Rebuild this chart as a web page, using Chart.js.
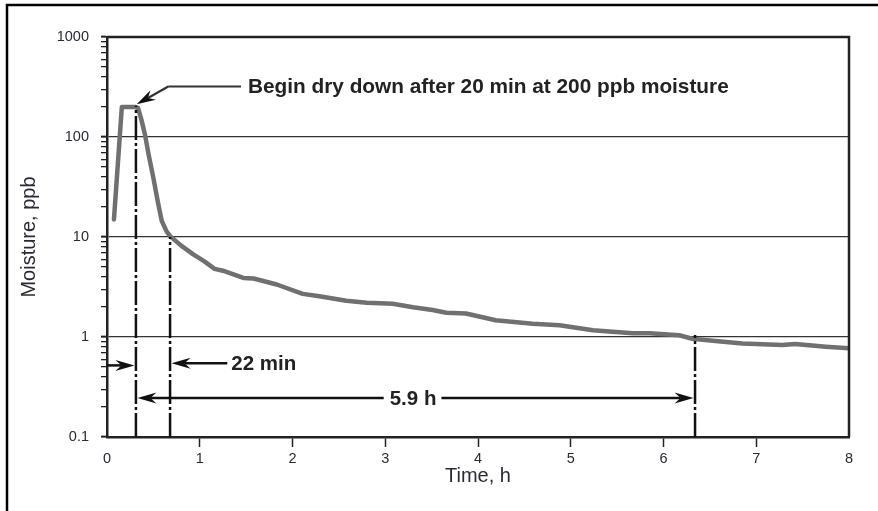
<!DOCTYPE html>
<html><head><meta charset="utf-8">
<script src="https://cdn.jsdelivr.net/npm/chart.js@4"></script>
<style>html,body{margin:0;padding:0;background:#fff;overflow:hidden}</style>
</head><body>
<canvas id="c" width="878" height="511" style="width:878px;height:511px;display:block"></canvas>
<script>
// ---- data ----
const timeH = [0.075,0.16,0.30,0.335,0.37,0.41,0.45,0.50,0.55,0.59,0.64,0.68,0.80,0.93,1.05,1.16,1.25,1.47,1.58,1.83,2.11,2.29,2.58,2.80,3.08,3.30,3.51,3.66,3.87,4.19,4.59,4.88,5.24,5.45,5.67,5.85,6.17,6.31,6.56,6.85,7.28,7.42,7.75,8.00];
const moisturePpb = [15,200,200,195,150,105,66,39,22,14.5,11.5,10.2,8.2,6.7,5.7,4.8,4.6,3.9,3.85,3.35,2.7,2.56,2.3,2.2,2.15,1.98,1.86,1.75,1.72,1.47,1.36,1.31,1.17,1.13,1.09,1.09,1.04,0.96,0.91,0.86,0.83,0.85,0.80,0.77];
const xTickValues = [0,1,2,3,4,5,6,7,8];
const yDecades = [0.1,1,10,100,1000];
const yTickLabels = ['0.1','1','10','100','1000'];
const yGridDecades = [1,10,100];
// annotation data (time h, moisture ppb)
const markerTimesH = [0.312,0.68,6.34];
const markerTopsPpb = [205,10,1.05];
const beginTip = [0.32,212];
const beginKnee = [0.66,320];
const beginTextAt = [1.52,320];
const arrowInPpb = 0.52;
const arrow22Ppb = 0.547;
const arrow22TextH = 1.34;
const arrow59Ppb = 0.245;
const arrow59TextH = 3.30;
const annotationTexts = ['Begin dry down after 20 min at 200 ppb moisture','22 min','5.9 h'];

const yTickValues = [];
yDecades.forEach((d,i)=>{ if(i<yDecades.length-1){ for(let k=1;k<10;k++) yTickValues.push(+(d*k).toPrecision(3)); } else yTickValues.push(d); });
const isDecade = v => yDecades.some(d=>Math.abs(d-v)<1e-9);
const FAM = '"Liberation Sans", Arial, Helvetica, sans-serif';

function head(ctx,x,y,a){ctx.save();ctx.translate(x,y);ctx.rotate(a);ctx.beginPath();ctx.moveTo(0,0);ctx.lineTo(-19,-5.5);ctx.lineTo(-13,0);ctx.lineTo(-19,5.5);ctx.closePath();ctx.fill();ctx.restore();}
function arrowLine(ctx,x0,y0,x1,y1){const a=Math.atan2(y1-y0,x1-x0);ctx.beginPath();ctx.moveTo(x0,y0);ctx.lineTo(x1-13*Math.cos(a),y1-13*Math.sin(a));ctx.stroke();head(ctx,x1,y1,a);}

const annot = {
  id:'annot',
  beforeDraw(chart){const c=chart.ctx;c.save();c.strokeStyle='#000';c.lineWidth=2.5;c.beginPath();c.moveTo(7,chart.height);c.lineTo(7,5);c.lineTo(chart.width,5);c.stroke();c.restore();},
  afterDatasetsDraw(chart){
    const c=chart.ctx, x=chart.scales.x, y=chart.scales.y, a=chart.chartArea;
    c.save();
    c.strokeStyle='#222';c.lineWidth=2.5;c.beginPath();c.moveTo(a.left,a.top);c.lineTo(a.right,a.top);c.lineTo(a.right,a.bottom);c.stroke();
    c.strokeStyle='#111';c.fillStyle='#111';c.lineWidth=2.5;c.setLineDash([24,3,3,3]);
    const mx = markerTimesH.map(t=>x.getPixelForValue(t));
    markerTimesH.forEach((t,i)=>{c.beginPath();c.moveTo(mx[i],a.bottom);c.lineTo(mx[i],y.getPixelForValue(markerTopsPpb[i]));c.stroke();});
    c.setLineDash([]);
    c.font='bold 20.8px '+FAM;c.textBaseline='middle';
    const tx=x.getPixelForValue(beginTip[0]), ty=y.getPixelForValue(beginTip[1]);
    const kx=x.getPixelForValue(beginKnee[0]), ky=y.getPixelForValue(beginKnee[1]);
    const bx=x.getPixelForValue(beginTextAt[0]);
    c.strokeStyle='#333';c.lineWidth=2.2;c.beginPath();c.moveTo(bx-7,ky);c.lineTo(kx,ky);c.stroke();
    c.fillStyle='#111';arrowLine(c,kx,ky,tx,ty);
    c.fillStyle='#222';c.textAlign='left';c.fillText(annotationTexts[0],bx,ky+1);
    c.strokeStyle='#111';c.fillStyle='#111';c.lineWidth=2.5;
    const ya=y.getPixelForValue(arrowInPpb);
    arrowLine(c,a.left,ya,mx[0]-1.5,ya);
    const y22=y.getPixelForValue(arrow22Ppb), x22=x.getPixelForValue(arrow22TextH);
    arrowLine(c,x22-4,y22,mx[1]+1.5,y22);
    c.fillStyle='#222';c.font='bold 20.5px '+FAM;c.fillText(annotationTexts[1],x22,y22+1);
    c.fillStyle='#111';
    const y59=y.getPixelForValue(arrow59Ppb), x59=x.getPixelForValue(arrow59TextH);
    const w=c.measureText(annotationTexts[2]).width;
    arrowLine(c,x59-w/2-6,y59,mx[0]+1.5,y59);
    arrowLine(c,x59+w/2+5,y59,mx[2]-1.5,y59);
    c.fillStyle='#222';c.textAlign='center';c.fillText(annotationTexts[2],x59,y59+1);
    c.restore();
  }
};

new Chart(document.getElementById('c'),{
  type:'line',
  data:{datasets:[{data:timeH.map((t,i)=>({x:t,y:moisturePpb[i]})),borderColor:'#707070',borderWidth:4.5,pointRadius:0,tension:0,borderCapStyle:'round',borderJoinStyle:'round',fill:false}]},
  options:{
    responsive:false,animation:false,
    layout:{padding:{left:0,right:29,top:37,bottom:0}},
    plugins:{legend:{display:false},tooltip:{enabled:false}},
    scales:{
      x:{type:'linear',min:0,max:8,
        afterBuildTicks:s=>{s.ticks=xTickValues.map(v=>({value:v}));},
        afterFit:s=>{s.height=74;},
        grid:{drawOnChartArea:false,tickLength:10,tickWidth:1.5,tickColor:ctx=>(ctx.tick&&(ctx.tick.value===0||ctx.tick.value===8))?'rgba(0,0,0,0)':'#222'},
        border:{display:true,color:'#222',width:2.5},
        ticks:{autoSkip:false,maxRotation:0,padding:3,color:'#2a2a35',font:{family:FAM,size:14.5},callback:v=>String(v)},
        title:{display:true,text:'Time, h',color:'#2a2a35',font:{family:FAM,size:20,lineHeight:1.2},padding:{top:0,bottom:23}}
      },
      y:{type:'logarithmic',min:0.1,max:1000,
        afterBuildTicks:s=>{s.ticks=yTickValues.map(v=>({value:v}));},
        afterFit:s=>{s.width=107;},
        grid:{tickLength:6,lineWidth:1.3,color:ctx=>(ctx.tick&&yGridDecades.some(d=>Math.abs(d-ctx.tick.value)<1e-9))?'#333':'rgba(0,0,0,0)',tickColor:'#222',tickWidth:ctx=>(ctx.tick&&isDecade(ctx.tick.value))?2:1.3},
        border:{display:true,color:'#222',width:2.5},
        ticks:{autoSkip:false,padding:12,color:'#2a2a35',font:{family:FAM,size:14.5},callback:v=>{const i=yDecades.findIndex(d=>Math.abs(d-v)<1e-9);return i>=0?yTickLabels[i]:'';}},
        title:{display:true,text:'Moisture, ppb',color:'#2a2a35',font:{family:FAM,size:20,lineHeight:1.2},padding:{top:17,bottom:0}}
      }
    }
  },
  plugins:[annot]
});
</script></body></html>
